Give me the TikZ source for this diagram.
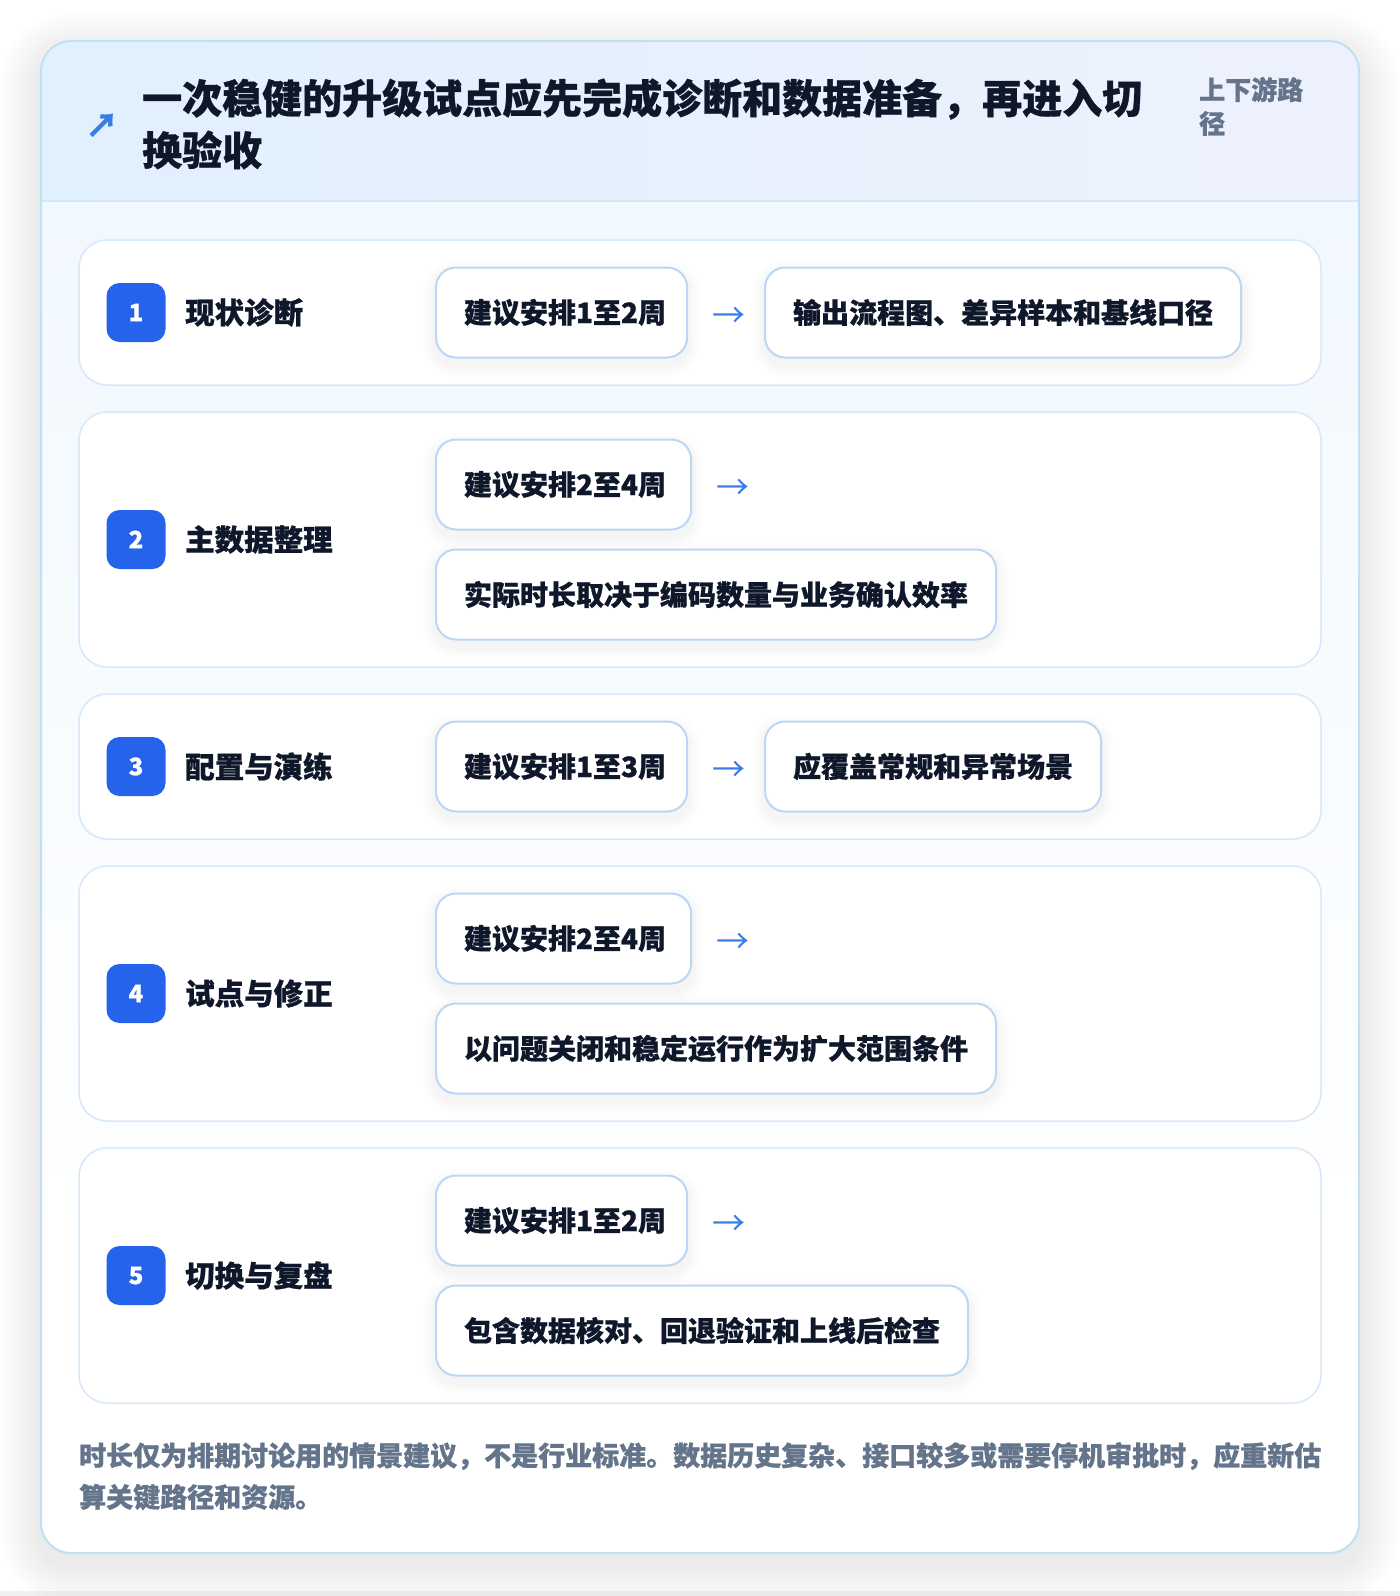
\documentclass[tikz,border=0pt]{standalone}
\usepackage{fontspec}
\setmainfont{Noto Sans CJK SC}[BoldFeatures={FakeBold=0.8}]
\definecolor{ink}{HTML}{0F172A}
\definecolor{badge}{HTML}{2563EB}
\definecolor{arrowc}{HTML}{3B7BE6}
\definecolor{muted}{HTML}{64748B}
\definecolor{cardline}{HTML}{BEE1F6}
\definecolor{rowline}{HTML}{D6E8FA}
\definecolor{boxline}{HTML}{BCD6F5}
\definecolor{hdrL}{HTML}{E1F0FD}
\definecolor{hdrR}{HTML}{EDF1FD}
\definecolor{hdrline}{HTML}{D3E7FA}
\definecolor{bodyT}{HTML}{F1F8FE}
\definecolor{pagegrey}{HTML}{EEF0F3}
\pgfdeclarelayer{L0}\pgfdeclarelayer{L1}\pgfdeclarelayer{L2}
\pgfsetlayers{L0,L1,L2,main}
\tikzset{
 stepbox/.style={draw=boxline, line width=2pt, fill=white, rounded corners=20pt,
   minimum height=90pt, inner xsep=28pt, inner ysep=0pt, anchor=west, text=ink,
   font=\fontsize{28}{28}\selectfont\bfseries},
 badgebox/.style={fill=badge, rounded corners=13pt, minimum size=59pt, inner sep=0pt,
   text=white, font=\fontsize{24}{24}\selectfont\bfseries},
 rowlabel/.style={anchor=west, inner sep=0pt, text=ink, font=\fontsize{29.5}{29.5}\selectfont\bfseries},
 flowarrow/.style={anchor=west, inner sep=0pt, text=arrowc, font=\fontsize{33}{33}\selectfont},
 rowcard/.style={draw=rowline, line width=1.5pt, fill=white, rounded corners=28pt},
 titletext/.style={anchor=west, inner sep=0pt, text=ink, font=\fontsize{40}{40}\selectfont\bfseries},
 sidetext/.style={anchor=west, inner sep=0pt, text=muted, font=\fontsize{26}{26}\selectfont\bfseries},
 foottext/.style={anchor=west, inner sep=0pt, text=muted, font=\fontsize{27}{27}\selectfont\bfseries},
}
\newcommand{\boxshadow}[1]{%
 \begin{pgfonlayer}{L2}
 \foreach \e/\o/\r/\lo/\hi in {12pt/0.007/32pt/-18pt/6pt, 9pt/0.009/29pt/-15pt/3pt, 6pt/0.011/26pt/-12pt/0pt, 3pt/0.013/23pt/-9pt/-3pt}{
  \fill[black, fill opacity=\o, rounded corners=\r]
    ([xshift=-\e, yshift=\lo]#1.south west) rectangle ([xshift=\e, yshift=\hi]#1.north east);
 }
 \end{pgfonlayer}}
\begin{document}
\begin{tikzpicture}[x=1pt,y=-1pt]
\useasboundingbox (0,0) rectangle (1400,1596);
\begin{pgfonlayer}{L0}
 \fill[white] (0,0) rectangle (1400,1596);
 \fill[pagegrey] (0,1591) rectangle (1400,1596);
 \foreach \e in {4,8,...,40}{
   \fill[black, fill opacity=0.006, rounded corners=30+\e] ({41-\e},{53-\e}) rectangle ({1359+\e},{1565+\e});
 }
 \begin{scope}
  \clip[rounded corners=30] (41,41) rectangle (1359,1553);
  \fill[white] (41,41) rectangle (1359,1553);
  \shade[top color=bodyT, bottom color=white] (41,201) rectangle (1359,1250);
  \shade[left color=hdrL, right color=hdrR] (41,41) rectangle (1359,201);
 \end{scope}
 \draw[hdrline, line width=1.5pt] (41,201) -- (1359,201);
 \draw[cardline, line width=2pt, rounded corners=30] (41,41) rectangle (1359,1553);
\end{pgfonlayer}
\begin{pgfonlayer}{L1}
 \draw[rowcard] (79,240) rectangle (1321,385);
 \draw[rowcard] (79,412) rectangle (1321,667);
 \draw[rowcard] (79,694) rectangle (1321,839);
 \draw[rowcard] (79,866) rectangle (1321,1121);
 \draw[rowcard] (79,1148) rectangle (1321,1403);
\end{pgfonlayer}
% header
\node[text=arrowc, inner sep=0pt, font=\fontsize{33}{33}\selectfont\bfseries] (ti) at (102,125.5) {↗};
\node[titletext] (t1) at (142,99) {一次稳健的升级试点应先完成诊断和数据准备，再进入切};
\node[titletext] (t2) at (142,150) {换验收};
\node[sidetext] (sd1) at (1199,89.5) {上下游路};
\node[sidetext] (sd2) at (1199,123.5) {径};
% row 1
\node[badgebox] (b1) at (136,312.5) {1};
\node[rowlabel] (l1) at (185,312.5) {现状诊断};
\node[stepbox] (s1a) at (435,312.5) {建议安排1至2周\kern-7pt};
\node[flowarrow] (a1) at ([xshift=24pt,yshift=-5pt]s1a.east) {→};
\node[stepbox] (s1b) at ([xshift=76pt]s1a.east) {输出流程图、差异样本和基线口径};
% row 2
\node[badgebox] (b2) at (136,539.5) {2};
\node[rowlabel] (l2) at (185,539.5) {主数据整理};
\node[stepbox] (s2a) at (435,484.5) {建议安排2至4周\kern-3pt};
\node[flowarrow] (a2) at ([xshift=24pt,yshift=-5pt]s2a.east) {→};
\node[stepbox] (s2b) at (435,594.5) {实际时长取决于编码数量与业务确认效率};
% row 3
\node[badgebox] (b3) at (136,766.5) {3};
\node[rowlabel] (l3) at (185,766.5) {配置与演练};
\node[stepbox] (s3a) at (435,766.5) {建议安排1至3周\kern-7pt};
\node[flowarrow] (a3) at ([xshift=24pt,yshift=-5pt]s3a.east) {→};
\node[stepbox] (s3b) at ([xshift=76pt]s3a.east) {应覆盖常规和异常场景};
% row 4
\node[badgebox] (b4) at (136,993.5) {4};
\node[rowlabel] (l4) at (185,993.5) {试点与修正};
\node[stepbox] (s4a) at (435,938.5) {建议安排2至4周\kern-3pt};
\node[flowarrow] (a4) at ([xshift=24pt,yshift=-5pt]s4a.east) {→};
\node[stepbox] (s4b) at (435,1048.5) {以问题关闭和稳定运行作为扩大范围条件};
% row 5
\node[badgebox] (b5) at (136,1275.5) {5};
\node[rowlabel] (l5) at (185,1275.5) {切换与复盘};
\node[stepbox] (s5a) at (435,1220.5) {建议安排1至2周\kern-7pt};
\node[flowarrow] (a5) at ([xshift=24pt,yshift=-5pt]s5a.east) {→};
\node[stepbox] (s5b) at (435,1330.5) {包含数据核对、回退验证和上线后检查};
\boxshadow{s1a}\boxshadow{s1b}\boxshadow{s2a}\boxshadow{s2b}\boxshadow{s3a}
\boxshadow{s3b}\boxshadow{s4a}\boxshadow{s4b}\boxshadow{s5a}\boxshadow{s5b}
% footer
\node[foottext] (f1) at (79,1456) {时长仅为排期讨论用的情景建议，不是行业标准。数据历史复杂、接口较多或需要停机审批时，应重新估};
\node[foottext] (f2) at (79,1497) {算关键路径和资源。};
\end{tikzpicture}
\end{document}
